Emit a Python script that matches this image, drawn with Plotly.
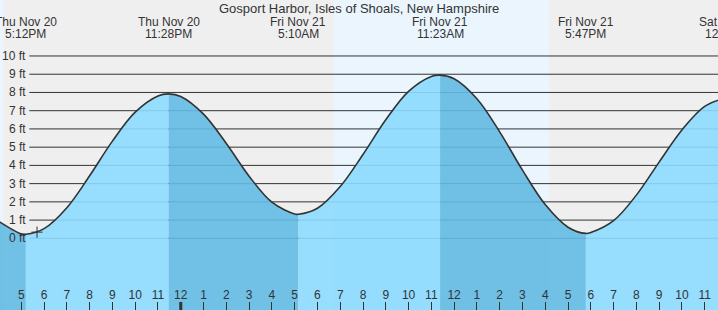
import plotly.graph_objects as go

# ---------------- data (hours counted from Thu Nov 20 00:00) ----------------
title_text = "Gosport Harbor, Isles of Shoals, New Hampshire"

sample_hours = [16, 17, 18, 19, 20, 21, 22, 23, 24, 25, 26, 27, 28, 29, 30, 31, 32,
                33, 34, 35, 36, 37, 38, 39, 40, 41, 42, 43, 44, 45, 46, 47, 48]
sample_heights = [0.94, 0.24, 0.53, 1.68, 3.43, 5.33, 6.92, 7.81, 7.78, 6.81, 5.20,
                  3.41, 1.98, 1.33, 1.65, 2.84, 4.60, 6.50, 8.06, 8.88, 8.75, 7.65,
                  5.84, 3.74, 1.85, 0.61, 0.32, 0.97, 2.37, 4.18, 5.94, 7.24, 7.73]

extreme_hours = [17.2, 23.467, 29.167, 35.383, 41.783, 48.05]
extreme_heights = [0.22, 7.92, 1.32, 8.95, 0.27, 7.74]
extreme_dates = ["Thu Nov 20", "Thu Nov 20", "Fri Nov 21", "Fri Nov 21", "Fri Nov 21", "Sat Nov 22"]
extreme_times = ["5:12PM", "11:28PM", "5:10AM", "11:23AM", "5:47PM", "12:03AM"]

tick_hours = list(range(16, 48))
tick_labels = ["4", "5", "6", "7", "8", "9", "10", "11", "12", "1", "2", "3", "4", "5",
               "6", "7", "8", "9", "10", "11", "12", "1", "2", "3", "4", "5", "6", "7",
               "8", "9", "10", "11"]
midnight_hours = [24]

gridline_ft = [0, 1, 2, 3, 4, 5, 6, 7, 8, 9, 10]
gridline_labels = ["0 ft", "1 ft", "2 ft", "3 ft", "4 ft", "5 ft", "6 ft", "7 ft", "8 ft", "9 ft", "10 ft"]

daylight_periods = [(15.5, 16.23), (30.7, 40.17)]

now_hour = 17.69
now_height = 0.34

# ---------------- styling ----------------
X_RANGE = [16.065, 47.584]
Y_RANGE = [-3.93, 13.07]
NIGHT_BG = "#efefef"
DAY_BG = "#eaf5fe"
RISING = "rgba(140,218,255,0.9)"
FALLING = "rgba(99,186,227,0.9)"
TXT = "#333333"
FONT = "Liberation Sans, Arial, sans-serif"


def xfrac(h):
    # position on the x axis as a fraction of its span (for labels past the edge)
    return (h - X_RANGE[0]) / (X_RANGE[1] - X_RANGE[0])


pts = sorted(zip(sample_hours + extreme_hours, sample_heights + extreme_heights))

fig = go.Figure()

# water fill per segment between consecutive extremes
bounds = [sample_hours[0]] + extreme_hours
for i in range(len(bounds) - 1):
    a, b = bounds[i], bounds[i + 1]
    seg = [(h, v) for h, v in pts if a <= h <= b]
    xs = [p[0] for p in seg]
    ys = [p[1] for p in seg]
    end_idx = extreme_hours.index(b)
    rising = extreme_heights[end_idx] > (extreme_heights[end_idx - 1] if end_idx > 0 else 99)
    fig.add_trace(go.Scatter(x=[xs[0], xs[-1]], y=[Y_RANGE[0], Y_RANGE[0]], mode="lines",
                             line=dict(width=0), hoverinfo="skip", showlegend=False))
    fig.add_trace(go.Scatter(x=xs, y=ys, mode="lines", fill="tonexty",
                             fillcolor=RISING if rising else FALLING,
                             line=dict(width=0, shape="spline"), hoverinfo="skip",
                             showlegend=False))

# tide curve
fig.add_trace(go.Scatter(x=[p[0] for p in pts], y=[p[1] for p in pts], mode="lines",
                         line=dict(color="#333333", width=1.6, shape="spline"),
                         showlegend=False, hoverinfo="skip"))

# current-time marker
fig.add_trace(go.Scatter(x=[now_hour], y=[now_height], mode="markers",
                         marker=dict(symbol="cross-thin", size=8,
                                     line=dict(color="#333333", width=1)),
                         showlegend=False, hoverinfo="skip"))

# hour labels
fig.add_trace(go.Scatter(x=tick_hours, y=[-3.14] * len(tick_hours), mode="text",
                         text=tick_labels, textposition="middle center",
                         textfont=dict(size=12, color=TXT, family=FONT),
                         cliponaxis=False, showlegend=False, hoverinfo="skip"))

shapes = []
for a, b in daylight_periods:
    shapes.append(dict(type="rect", xref="x", yref="paper", x0=a, x1=b, y0=0, y1=1,
                       fillcolor=DAY_BG, line=dict(width=0), layer="below"))
for v in gridline_ft:
    shapes.append(dict(type="line", xref="paper", yref="y", x0=29.3 / 718, x1=1,
                       y0=v, y1=v, line=dict(color="#333333", width=1), layer="below"))
for m in midnight_hours:
    shapes.append(dict(type="line", xref="x", yref="paper", x0=m, x1=m, y0=0,
                       y1=8 / 310, line=dict(color="#333333", width=3), layer="above"))

annotations = []
for v, lab in zip(gridline_ft, gridline_labels):
    annotations.append(dict(xref="paper", yref="y", x=27.5 / 718, y=v, text=lab,
                            showarrow=False, xanchor="right", yanchor="middle",
                            font=dict(size=12, color=TXT, family=FONT)))
for h, d, t in zip(extreme_hours, extreme_dates, extreme_times):
    annotations.append(dict(xref="paper", yref="y", x=xfrac(h), y=11.89, text=d,
                            showarrow=False, xanchor="center", yanchor="middle",
                            font=dict(size=12, color=TXT, family=FONT)))
    annotations.append(dict(xref="paper", yref="y", x=xfrac(h), y=11.19, text=t,
                            showarrow=False, xanchor="center", yanchor="middle",
                            font=dict(size=12, color=TXT, family=FONT)))
annotations.append(dict(xref="paper", yref="paper", x=0.5, y=1 - 8.5 / 310,
                        text=title_text, showarrow=False, xanchor="center",
                        yanchor="middle", font=dict(size=13, color=TXT, family=FONT)))

fig.update_layout(
    width=718, height=310,
    margin=dict(l=0, r=0, t=0, b=0),
    paper_bgcolor=NIGHT_BG, plot_bgcolor=NIGHT_BG,
    shapes=shapes, annotations=annotations,
    xaxis=dict(range=X_RANGE, showgrid=False, zeroline=False, showline=False,
               tickmode="array", tickvals=tick_hours, ticks="inside", ticklen=8,
               tickwidth=1, tickcolor="#333333", showticklabels=False, fixedrange=True),
    yaxis=dict(range=Y_RANGE, showgrid=False, zeroline=False, showline=False,
               showticklabels=False, ticks="", fixedrange=True),
    font=dict(family=FONT, size=12, color=TXT),
)

fig.write_html("out.html")
